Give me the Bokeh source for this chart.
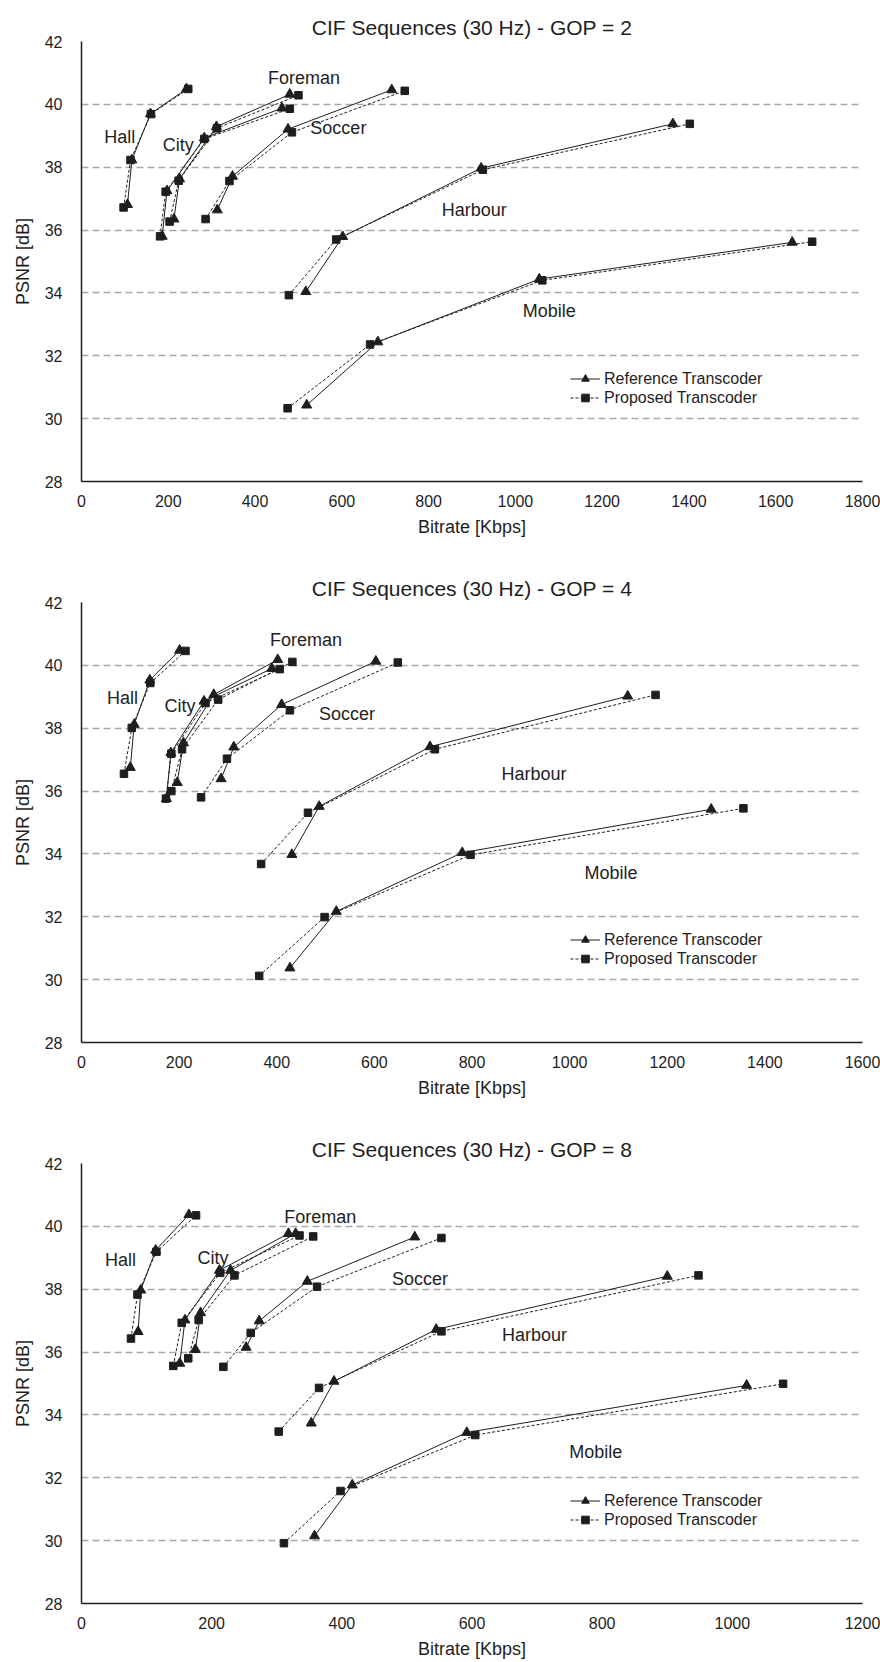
from bokeh.plotting import figure
from bokeh.layouts import column
from bokeh.models import Range1d, FixedTicker, Legend, LegendItem, Title
from bokeh.core.properties import value
from bokeh.embed import file_html
from bokeh.resources import INLINE

SEQUENCES = ["Hall", "City", "Foreman", "Soccer", "Harbour", "Mobile"]

# ---- GOP = 2 : bitrate [Kbps] / PSNR [dB], one row per sequence (SEQUENCES order)
GOP2_REF_RATE = [[106, 116, 159, 242], [186, 197, 283, 462], [213, 226, 311, 480],
                 [313, 348, 476, 715], [517, 602, 921, 1363], [519, 683, 1055, 1638]]
GOP2_REF_PSNR = [[36.81, 38.23, 39.70, 40.49], [35.80, 37.25, 38.93, 39.88], [36.35, 37.63, 39.29, 40.32],
                 [36.64, 37.71, 39.21, 40.46], [34.04, 35.79, 37.97, 39.38], [30.43, 32.44, 34.44, 35.61]]
GOP2_PROP_RATE = [[97, 113, 160, 246], [181, 194, 283, 480], [203, 224, 312, 500],
                  [286, 341, 485, 745], [478, 587, 925, 1402], [475, 665, 1062, 1684]]
GOP2_PROP_PSNR = [[36.72, 38.23, 39.69, 40.49], [35.80, 37.22, 38.90, 39.86], [36.27, 37.57, 39.24, 40.29],
                  [36.35, 37.56, 39.11, 40.43], [33.93, 35.70, 37.92, 39.38], [30.33, 32.36, 34.40, 35.63]]
GOP2_LABEL_X = [88, 223, 513, 592, 905, 1078]
GOP2_LABEL_Y = [38.97, 38.72, 40.84, 39.24, 36.65, 33.41]

# ---- GOP = 4
GOP4_REF_RATE = [[100, 108, 140, 201], [174, 183, 251, 390], [196, 209, 271, 402],
                 [286, 312, 410, 603], [431, 487, 714, 1119], [427, 522, 780, 1290]]
GOP4_REF_PSNR = [[36.75, 38.12, 39.53, 40.48], [35.76, 37.22, 38.86, 39.90], [36.27, 37.53, 39.07, 40.18],
                 [36.39, 37.40, 38.75, 40.13], [33.98, 35.51, 37.41, 39.02], [30.37, 32.17, 34.04, 35.42]]
GOP4_PROP_RATE = [[87, 103, 141, 213], [173, 184, 254, 406], [184, 206, 280, 432],
                  [245, 298, 427, 648], [368, 464, 724, 1176], [364, 498, 797, 1356]]
GOP4_PROP_PSNR = [[36.55, 38.01, 39.44, 40.46], [35.76, 37.19, 38.80, 39.88], [36.00, 37.33, 38.91, 40.11],
                  [35.80, 37.03, 38.57, 40.09], [33.68, 35.31, 37.33, 39.06], [30.12, 31.99, 33.97, 35.45]]
GOP4_LABEL_X = [84, 202, 460, 544, 927, 1085]
GOP4_LABEL_Y = [38.96, 38.70, 40.82, 38.46, 36.55, 33.39]

# ---- GOP = 8
GOP8_REF_RATE = [[87, 91, 114, 165], [151, 159, 212, 318], [175, 183, 229, 329],
                 [253, 273, 347, 512], [353, 388, 545, 900], [358, 416, 592, 1022]]
GOP8_REF_PSNR = [[36.65, 37.97, 39.24, 40.37], [35.64, 37.02, 38.60, 39.77], [36.08, 37.25, 38.60, 39.77],
                 [36.15, 36.99, 38.25, 39.66], [33.74, 35.07, 36.72, 38.41], [30.15, 31.77, 33.44, 34.94]]
GOP8_PROP_RATE = [[76, 86, 115, 176], [141, 154, 213, 335], [164, 180, 235, 356],
                  [218, 260, 362, 553], [303, 365, 553, 948], [311, 398, 605, 1078]]
GOP8_PROP_PSNR = [[36.43, 37.83, 39.19, 40.35], [35.56, 36.93, 38.52, 39.71], [35.80, 37.02, 38.44, 39.68],
                  [35.53, 36.61, 38.08, 39.63], [33.47, 34.86, 36.66, 38.44], [29.92, 31.58, 33.36, 34.99]]
GOP8_LABEL_X = [60, 202, 367, 520, 696, 790]
GOP8_LABEL_Y = [38.94, 39.00, 40.31, 38.31, 36.55, 32.81]

PSNR_TICKS = [28, 30, 32, 34, 36, 38, 40, 42]

INK = "#1e1e1e"
SANS = "Liberation Sans"
NARROW = "'Liberation Sans Narrow', 'Liberation Sans', sans-serif"


def make_panel(gop, x_max, ref_rate, ref_psnr, prop_rate, prop_psnr, lab_x, lab_y,
               height, border_bottom):
    p = figure(width=880, height=height,
               x_range=Range1d(0, x_max), y_range=Range1d(28, 42),
               output_backend="svg", toolbar_location=None,
               min_border_left=81, min_border_right=18,
               min_border_top=41, min_border_bottom=border_bottom)
    p.outline_line_color = None
    p.background_fill_color = "white"

    p.title.text = f"CIF Sequences (30 Hz) - GOP = {gop}"
    p.title.align = "center"
    p.title.text_font = SANS
    p.title.text_font_size = "21px"
    p.title.text_font_style = "normal"
    p.title.text_color = INK
    p.title.standoff = 6

    p.xaxis.ticker = FixedTicker(ticks=list(range(0, x_max + 1, 200)))
    p.yaxis.ticker = FixedTicker(ticks=PSNR_TICKS)
    p.xaxis.axis_label = "Bitrate [Kbps]"
    for ax in (p.xaxis[0], p.yaxis[0]):
        ax.axis_line_color = INK
        ax.axis_line_width = 1.5
        ax.major_tick_line_color = None
        ax.minor_tick_line_color = None
        ax.major_label_text_font = NARROW
        ax.major_label_text_font_size = "16px"
        ax.major_label_text_color = INK
        ax.axis_label_text_font = NARROW
        ax.axis_label_text_font_size = "18px"
        ax.axis_label_text_font_style = "normal"
        ax.axis_label_text_color = INK
    p.xaxis.major_label_standoff = 7
    p.yaxis.major_label_standoff = 13
    p.xaxis.axis_label_standoff = 7

    # vertical axis title, sitting a little above the middle of the plot
    p.add_layout(Title(text="PSNR [dB]", align="center", offset=44, standoff=18,
                       text_font=NARROW, text_font_size="18px", text_font_style="normal",
                       text_color=INK), "left")

    p.xgrid.grid_line_color = None
    p.ygrid.grid_line_color = "#a8a8a8"
    p.ygrid.grid_line_width = 1.3
    p.ygrid.grid_line_dash = "7 4"

    ref_line = ref_mark = prop_line = prop_mark = None
    for i in range(len(SEQUENCES)):
        pl = p.line(prop_rate[i], prop_psnr[i], line_color=INK, line_width=1, line_dash="3 2")
        rl = p.line(ref_rate[i], ref_psnr[i], line_color=INK, line_width=1)
        pm = p.scatter(prop_rate[i], prop_psnr[i], marker="square", size=7.5,
                       fill_color=INK, line_color=INK)
        rm = p.scatter(ref_rate[i], ref_psnr[i], marker="triangle", size=10,
                       fill_color=INK, line_color=INK)
        if ref_line is None:
            ref_line, ref_mark, prop_line, prop_mark = rl, rm, pl, pm

    p.text(x=lab_x, y=lab_y, text=SEQUENCES, text_align="center", text_baseline="middle",
           text_font=value(SANS), text_font_size="18px", text_color=INK)

    legend = Legend(items=[
        LegendItem(label="Reference Transcoder", renderers=[ref_line, ref_mark]),
        LegendItem(label="Proposed Transcoder", renderers=[prop_line, prop_mark]),
    ], location=(489, 74))
    legend.border_line_color = None
    legend.background_fill_alpha = 0
    legend.padding = 0
    legend.margin = 0
    legend.spacing = 0
    legend.glyph_width = 30
    legend.glyph_height = 19
    legend.label_height = 19
    legend.label_standoff = 4
    legend.label_text_font = SANS
    legend.label_text_font_size = "16px"
    legend.label_text_color = INK
    p.add_layout(legend, "center")
    return p


p1 = make_panel(2, 1800, GOP2_REF_RATE, GOP2_REF_PSNR, GOP2_PROP_RATE, GOP2_PROP_PSNR,
                GOP2_LABEL_X, GOP2_LABEL_Y, 561, 80)
p2 = make_panel(4, 1600, GOP4_REF_RATE, GOP4_REF_PSNR, GOP4_PROP_RATE, GOP4_PROP_PSNR,
                GOP4_LABEL_X, GOP4_LABEL_Y, 561, 80)
p3 = make_panel(8, 1200, GOP8_REF_RATE, GOP8_REF_PSNR, GOP8_PROP_RATE, GOP8_PROP_PSNR,
                GOP8_LABEL_X, GOP8_LABEL_Y, 540, 59)

page = column(p1, p2, p3, spacing=0)
open("out.html", "w").write(file_html(page, INLINE, title="CIF Sequences PSNR"))
